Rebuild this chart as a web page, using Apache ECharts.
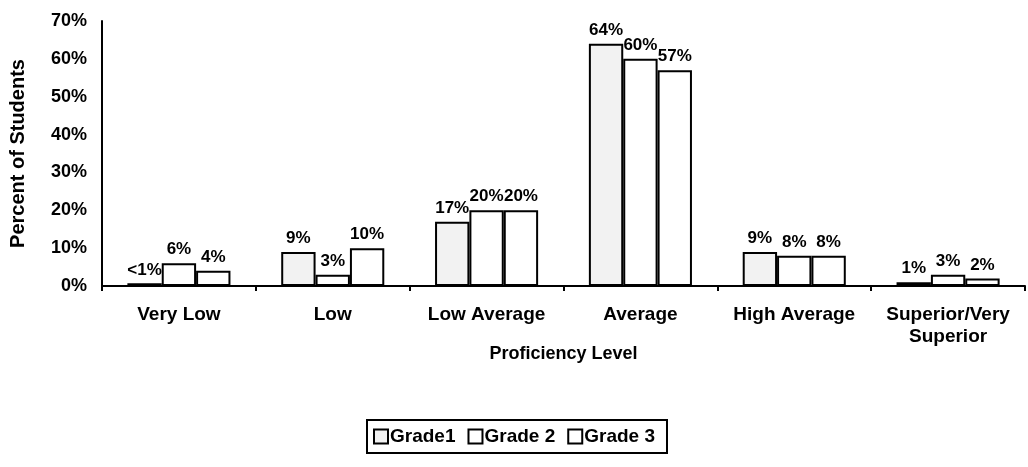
<!DOCTYPE html>
<html><head><meta charset="utf-8">
<script src="https://cdn.jsdelivr.net/npm/echarts@6/dist/echarts.min.js"></script>
<style>html,body{margin:0;padding:0;background:#fff}#c{width:1028px;height:467px}</style>
</head><body><div id="c"></div>
<script>
const categories = ["Very Low","Low","Low Average","Average","High Average","Superior/Very\nSuperior"];
const grade1 = [0.7, 9, 17, 64, 9, 1];
const grade2 = [6, 3, 20, 60, 8, 3];
const grade3 = [4, 10, 20, 57, 8, 2];
const labels1 = ["<1%","9%","17%","64%","9%","1%"];
const labels2 = ["6%","3%","20%","60%","8%","3%"];
const labels3 = ["4%","10%","20%","57%","8%","2%"];
const yTicks = [0,10,20,30,40,50,60,70];

const font = 'Arial, "Liberation Sans", sans-serif';
function mk(name, data, labs, fill) {
  return {
    name, type: 'bar', data, barGap: '0%', barCategoryGap: '33%',
    itemStyle: { color: fill, borderColor: '#000', borderWidth: 2 },
    label: { show: true, position: 'top', distance: 5, formatter: p => labs[p.dataIndex],
      fontFamily: font, fontWeight: 'bold', fontSize: 17, color: '#000' }
  };
}
const chart = echarts.init(document.getElementById('c'));
chart.setOption({
  animation: false,
  grid: { left: 101, right: 3, top: 21, bottom: 181, containLabel: false },
  legend: {
    top: 420, left: 'center', itemWidth: 14, itemHeight: 14, itemGap: 12,
    icon: 'rect', borderColor: '#000', borderWidth: 2, padding: [7, 12, 7, 6],
    textStyle: { fontFamily: font, fontWeight: 'bold', fontSize: 19, color: '#000', padding: [0,0,0,-3] },
    data: ['Grade1','Grade 2','Grade 3']
  },
  xAxis: {
    type: 'category', data: categories,
    name: 'Proficiency Level', nameLocation: 'middle', nameGap: 59, nameMoveOverlap: false,
    nameTextStyle: { fontFamily: font, fontWeight: 'bold', fontSize: 18, color: '#000' },
    axisLine: { lineStyle: { color: '#000', width: 2 } },
    axisTick: { show: true, length: 5, lineStyle: { color: '#000', width: 2 } },
    axisLabel: { fontFamily: font, fontWeight: 'bold', fontSize: 19, color: '#000', margin: 18, lineHeight: 22, interval: 0 }
  },
  yAxis: {
    type: 'value', min: 0, max: 70, interval: 10,
    name: 'Percent of Students', nameLocation: 'middle', nameGap: 74, nameRotate: 90, nameMoveOverlap: false,
    nameTextStyle: { fontFamily: font, fontWeight: 'bold', fontSize: 20, color: '#000' },
    axisLine: { show: true, lineStyle: { color: '#000', width: 2 } },
    axisTick: { show: false },
    splitLine: { show: false },
    axisLabel: { fontFamily: font, fontWeight: 'bold', fontSize: 18, color: '#000', margin: 15,
      formatter: v => yTicks.includes(v) ? v + '%' : '' }
  },
  series: [
    mk('Grade1', grade1, labels1, '#f2f2f2'),
    mk('Grade 2', grade2, labels2, '#ffffff'),
    mk('Grade 3', grade3, labels3, '#ffffff')
  ]
});
</script></body></html>
